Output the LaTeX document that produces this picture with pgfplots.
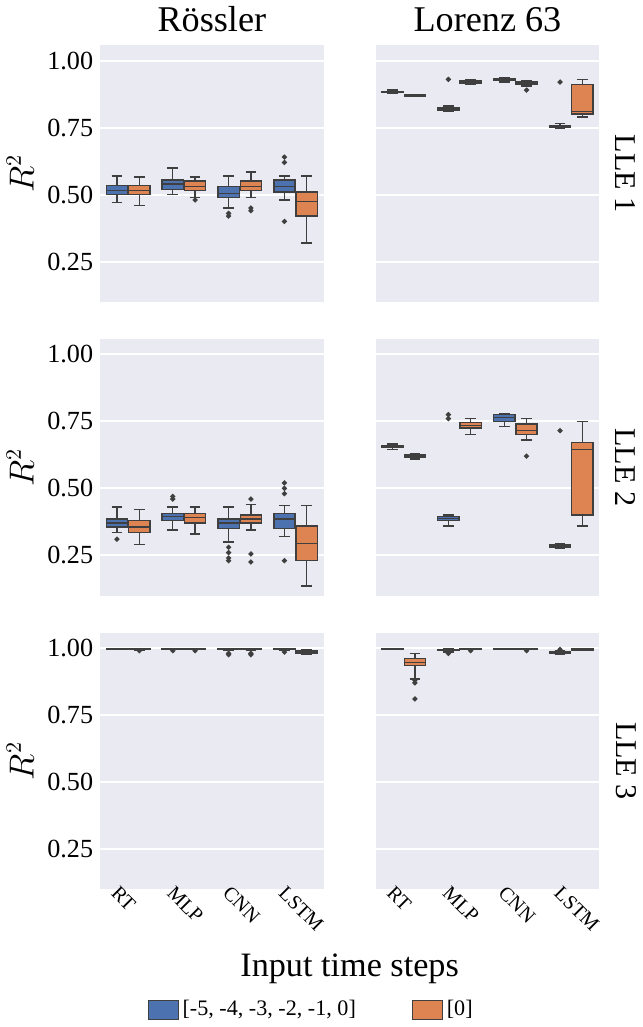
\documentclass[border=0pt]{standalone}
\usepackage{pgfplots}
\pgfplotsset{compat=1.18}
\usepgfplotslibrary{groupplots,statistics}
\usepackage{fontspec}
\setmainfont{Liberation Serif}
\definecolor{bgc}{HTML}{EAEAF2}
\definecolor{cb}{HTML}{4C72B0}
\definecolor{co}{HTML}{DD8452}
\definecolor{edge}{HTML}{3F3F3F}
\pgfplotsset{bstyle/.style={draw=edge,fill=#1,line width=0.7pt,mark=*,mark size=0.9pt,mark options={fill=edge,draw=edge,solid}}}
\newcommand{\bx}[8]{\addplot[bstyle=#1,
 boxplot prepared={draw direction=y,draw position=#2,lower whisker=#3,lower quartile=#4,median=#5,upper quartile=#6,upper whisker=#7,box extend=0.38,whisker extend=0.19}] coordinates {#8};}
\begin{document}
\begin{tikzpicture}
\begin{groupplot}[group style={group size=2 by 3,horizontal sep=26pt,vertical sep=18.5pt,xticklabels at=edge bottom,yticklabels at=edge left},
 scale only axis,width=111pt,height=127.5pt,
 xmin=-0.5,xmax=3.5,ymin=0.1,ymax=1.057,clip mode=individual,
 axis background/.style={fill=bgc},axis line style={draw=none},
 ytick={0.25,0.5,0.75,1.0},ymajorgrids,grid style={white,line width=1pt},
 major tick length=0pt,
 yticklabel style={/pgf/number format/.cd,fixed,fixed zerofill,precision=2},
 /pgf/number format/assume math mode=true,
 tick label style={font=\fontsize{13}{15}\selectfont},
 ylabel style={font=\fontsize{16}{18}\selectfont},
 title style={font=\fontsize{18}{20}\selectfont,yshift=-3pt},
 xtick={0,1,2,3},xticklabels={RT,MLP,CNN,LSTM},
 xticklabel style={rotate=-45,anchor=north west,xshift=-8pt,yshift=2pt,font=\fontsize{10}{12}\selectfont},
 ]
% Row 1
\nextgroupplot[title={Rössler},ylabel={$R^2$}]
\bx{cb}{-0.2}{0.47}{0.50}{0.515}{0.535}{0.57}{}
\bx{co}{0.2}{0.46}{0.50}{0.515}{0.535}{0.565}{}
\bx{cb}{0.8}{0.50}{0.52}{0.54}{0.555}{0.60}{}
\bx{co}{1.2}{0.49}{0.515}{0.53}{0.55}{0.565}{(0,0.48)}
\bx{cb}{1.8}{0.45}{0.49}{0.505}{0.53}{0.57}{(0,0.42)(0,0.43)}
\bx{co}{2.2}{0.49}{0.515}{0.53}{0.55}{0.585}{(0,0.44)(0,0.45)}
\bx{cb}{2.8}{0.48}{0.51}{0.53}{0.555}{0.57}{(0,0.62)(0,0.64)(0,0.40)}
\bx{co}{3.2}{0.32}{0.42}{0.475}{0.51}{0.57}{}
\nextgroupplot[title={Lorenz 63}]
\bx{cb}{-0.2}{0.877}{0.880}{0.882}{0.885}{0.89}{}
\bx{co}{0.2}{0.866}{0.868}{0.870}{0.872}{0.874}{}
\bx{cb}{0.8}{0.81}{0.815}{0.82}{0.825}{0.83}{(0,0.93)}
\bx{co}{1.2}{0.91}{0.915}{0.92}{0.925}{0.93}{}
\bx{cb}{1.8}{0.92}{0.925}{0.928}{0.932}{0.935}{}
\bx{co}{2.2}{0.905}{0.91}{0.915}{0.92}{0.925}{(0,0.89)}
\bx{cb}{2.8}{0.748}{0.752}{0.755}{0.758}{0.765}{(0,0.92)}
\bx{co}{3.2}{0.79}{0.80}{0.81}{0.91}{0.93}{}
\node[rotate=-90,font=\fontsize{15}{17}\selectfont] at (rel axis cs:1.12,0.5) {LLE 1};
% Row 2
\nextgroupplot[ylabel={$R^2$}]
\bx{cb}{-0.2}{0.335}{0.355}{0.37}{0.385}{0.43}{(0,0.31)}
\bx{co}{0.2}{0.29}{0.335}{0.355}{0.38}{0.42}{}
\bx{cb}{0.8}{0.345}{0.38}{0.395}{0.405}{0.43}{(0,0.46)(0,0.47)}
\bx{co}{1.2}{0.33}{0.37}{0.39}{0.405}{0.43}{}
\bx{cb}{1.8}{0.30}{0.35}{0.37}{0.385}{0.43}{(0,0.28)(0,0.26)(0,0.24)(0,0.23)}
\bx{co}{2.2}{0.345}{0.37}{0.385}{0.40}{0.44}{(0,0.46)(0,0.255)(0,0.225)}
\bx{cb}{2.8}{0.32}{0.35}{0.385}{0.405}{0.435}{(0,0.48)(0,0.50)(0,0.52)(0,0.23)}
\bx{co}{3.2}{0.135}{0.23}{0.295}{0.36}{0.435}{}
\nextgroupplot
\bx{cb}{-0.2}{0.645}{0.652}{0.656}{0.66}{0.665}{}
\bx{co}{0.2}{0.61}{0.615}{0.62}{0.624}{0.628}{}
\bx{cb}{0.8}{0.36}{0.38}{0.388}{0.395}{0.40}{(0,0.76)(0,0.775)}
\bx{co}{1.2}{0.70}{0.725}{0.735}{0.745}{0.76}{}
\bx{cb}{1.8}{0.73}{0.75}{0.765}{0.775}{0.78}{}
\bx{co}{2.2}{0.68}{0.70}{0.715}{0.74}{0.76}{(0,0.62)}
\bx{cb}{2.8}{0.275}{0.28}{0.285}{0.29}{0.295}{(0,0.715)}
\bx{co}{3.2}{0.36}{0.40}{0.645}{0.67}{0.75}{}
\node[rotate=-90,font=\fontsize{15}{17}\selectfont] at (rel axis cs:1.12,0.5) {LLE 2};
% Row 3
\nextgroupplot[ylabel={$R^2$},
 legend style={at={(rel axis cs:0.95,-0.47)},anchor=center,draw=none,fill=none,font=\fontsize{11}{13}\selectfont,legend columns=2,/tikz/every even column/.append style={column sep=26pt}},
 legend image code/.code={\draw[#1] (0cm,-0.17cm) rectangle (0.52cm,0.17cm);}]
\addlegendimage{fill=cb,draw=edge}
\addlegendentry{\lbrack-5, -4, -3, -2, -1, 0\rbrack}
\addlegendimage{fill=co,draw=edge}
\addlegendentry{\lbrack0\rbrack}
\bx{cb}{-0.2}{0.995}{0.996}{0.997}{0.998}{0.999}{}
\bx{co}{0.2}{0.993}{0.995}{0.996}{0.997}{0.998}{(0,0.99)}
\bx{cb}{0.8}{0.994}{0.996}{0.997}{0.998}{0.999}{(0,0.99)}
\bx{co}{1.2}{0.994}{0.996}{0.997}{0.998}{0.999}{(0,0.99)}
\bx{cb}{1.8}{0.99}{0.995}{0.996}{0.997}{0.998}{(0,0.98)(0,0.975)}
\bx{co}{2.2}{0.99}{0.995}{0.996}{0.997}{0.998}{(0,0.98)(0,0.975)}
\bx{cb}{2.8}{0.99}{0.994}{0.996}{0.997}{0.998}{(0,0.985)}
\bx{co}{3.2}{0.975}{0.98}{0.985}{0.99}{0.995}{}
\node[font=\fontsize{17}{19}\selectfont] at (rel axis cs:1.117,-0.31) {Input time steps};
\nextgroupplot
\bx{cb}{-0.2}{0.996}{0.997}{0.998}{0.998}{0.999}{}
\bx{co}{0.2}{0.885}{0.935}{0.945}{0.96}{0.98}{(0,0.87)(0,0.88)(0,0.81)}
\bx{cb}{0.8}{0.985}{0.99}{0.993}{0.995}{0.998}{(0,0.98)}
\bx{co}{1.2}{0.994}{0.996}{0.997}{0.998}{0.999}{(0,0.99)}
\bx{cb}{1.8}{0.995}{0.996}{0.997}{0.998}{0.999}{}
\bx{co}{2.2}{0.994}{0.996}{0.997}{0.998}{0.999}{(0,0.99)}
\bx{cb}{2.8}{0.975}{0.98}{0.983}{0.986}{0.99}{(0,0.995)}
\bx{co}{3.2}{0.99}{0.992}{0.995}{0.997}{0.999}{}
\node[rotate=-90,font=\fontsize{15}{17}\selectfont] at (rel axis cs:1.12,0.5) {LLE 3};
\end{groupplot}
\end{tikzpicture}
\end{document}
